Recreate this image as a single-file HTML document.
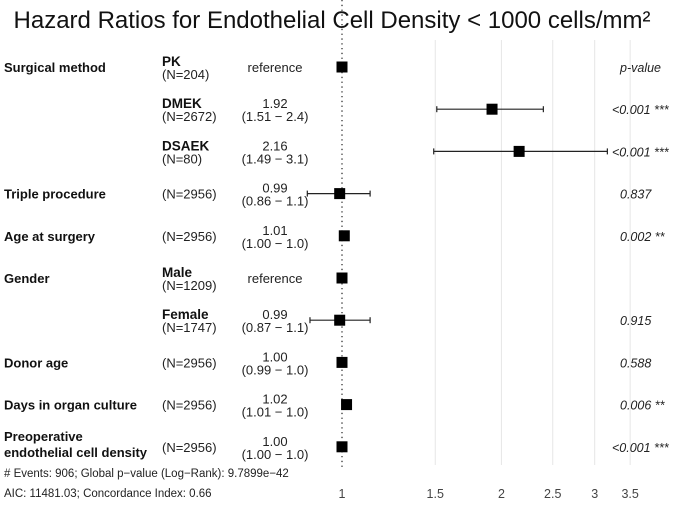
<!DOCTYPE html>
<html><head><meta charset="utf-8"><style>
body{margin:0;background:#fff;}
svg{display:block;font-family:"Liberation Sans",Arial,sans-serif;}
</style></head><body>
<svg id="chart" width="677" height="506" viewBox="0 0 677 506">
<text x="332" y="28" text-anchor="middle" font-size="24" fill="#111">Hazard Ratios for Endothelial Cell Density &lt; 1000 cells/mm²</text>
<g id="grid"></g><g id="rows"></g><g id="marks"></g><g id="axis"></g>
<text x="4" y="477" font-size="11.5" fill="#222"># Events: 906; Global p−value (Log−Rank): 9.7899e−42</text>
<text x="4" y="497" font-size="11.5" fill="#222">AIC: 11481.03; Concordance Index: 0.66</text>
</svg>
<script>
const variables=["Surgical method","","","Triple procedure","Age at surgery","Gender","","Donor age","Days in organ culture","Preoperative|endothelial cell density"];
const levels=["PK","DMEK","DSAEK","","","Male","Female","","",""];
const ns=["(N=204)","(N=2672)","(N=80)","(N=2956)","(N=2956)","(N=1209)","(N=1747)","(N=2956)","(N=2956)","(N=2956)"];
const hr=[1,1.92,2.16,0.99,1.01,1,0.99,1.00,1.02,1.00];
const lo=[null,1.51,1.49,0.86,1.00,null,0.87,0.99,1.01,1.00];
const hi=[null,2.4,3.17,1.13,1.01,null,1.13,1.00,1.02,1.00];
const hrLabels=["reference","1.92","2.16","0.99","1.01","reference","0.99","1.00","1.02","1.00"];
const ciLabels=["","(1.51 − 2.4)","(1.49 − 3.1)","(0.86 − 1.1)","(1.00 − 1.0)","","(0.87 − 1.1)","(0.99 − 1.0)","(1.01 − 1.0)","(1.00 − 1.0)"];
const pvals=["","<0.001 ***","<0.001 ***","0.837","0.002 **","","0.915","0.588","0.006 **","<0.001 ***"];
const ticks=[1,1.5,2,2.5,3,3.5];
const tickLabels=["1","1.5","2","2.5","3","3.5"];

const NS="http://www.w3.org/2000/svg";
const xs=v=>342+230*Math.log(v);
const ys=i=>67+i*42.2;
function mk(tag,attrs,parent,txt){const e=document.createElementNS(NS,tag);for(const k in attrs)e.setAttribute(k,attrs[k]);if(txt!==undefined)e.textContent=txt;parent.appendChild(e);return e;}
const grid=document.getElementById('grid'),rows=document.getElementById('rows'),marks=document.getElementById('marks'),axis=document.getElementById('axis');
ticks.forEach((t,i)=>{
  if(t!==1){const g=mk('line',{x1:xs(t),x2:xs(t),y1:40,y2:465,stroke:'#e6e6e6','stroke-width':1},grid);
  
  }
  const tl=mk('text',{x:xs(t),y:498,'text-anchor':'middle','font-size':12.5,fill:'#444'},axis,tickLabels[i]);
  
  
});
const ref=mk('line',{x1:xs(1),x2:xs(1),y1:0,y2:470,stroke:'#333','stroke-width':1.3,'stroke-dasharray':'1.3,3.5'},grid);


hr.forEach((v,i)=>{
  const y=ys(i);
  if(variables[i]){const parts=variables[i].split('|');
    const t=mk('text',{x:4,y:parts.length>1?y-6:y+5,'font-size':13,'font-weight':'bold',fill:'#111'},rows);
    parts.forEach((p,j)=>mk('tspan',{x:4,dy:j?16:0},t,p));
    
    }
  if(levels[i]){const l=mk('text',{x:162,y:y-1,'font-size':13.5,'font-weight':'bold',fill:'#111'},rows,levels[i]);
    
    
    const n=mk('text',{x:162,y:y+12,'font-size':13,fill:'#222'},rows,ns[i]);
    
    }
  else{const n=mk('text',{x:162,y:y+5,'font-size':13,fill:'#222'},rows,ns[i]);
    
    }
  if(ciLabels[i]){const h=mk('text',{x:275,y:y-1,'text-anchor':'middle','font-size':13,fill:'#222'},rows,hrLabels[i]);
    
    
    const c=mk('text',{x:275,y:y+12,'text-anchor':'middle','font-size':13,fill:'#222'},rows,ciLabels[i]);
    
    }
  else{const h=mk('text',{x:275,y:y+5,'text-anchor':'middle','font-size':13,fill:'#222'},rows,hrLabels[i]);
    
    }
  if(pvals[i]){const p=mk('text',{x:620,y:y+5,'text-anchor':'start','font-size':12.5,'font-style':'italic',fill:'#222'},rows,pvals[i]);
    p.setAttribute('x',pvals[i].startsWith('<')?612:620);
    
    }
  if(lo[i]!==null&&hi[i]-lo[i]>0.03){
    const e=mk('g',{stroke:'#222','stroke-width':1.2},marks);
    
    
    mk('line',{x1:xs(lo[i]),x2:xs(hi[i]),y1:y,y2:y},e);
    mk('line',{x1:xs(lo[i]),x2:xs(lo[i]),y1:y-3,y2:y+3},e);
    mk('line',{x1:xs(hi[i]),x2:xs(hi[i]),y1:y-3,y2:y+3},e);}
  const b=mk('rect',{x:xs(v)-5.5,y:y-5.5,width:11,height:11,fill:'#000'},marks);
  
  
});
const ph=mk('text',{x:620,y:72,'font-size':12.5,'font-style':'italic',fill:'#222'},rows,'p-value');


</script>
</body></html>
